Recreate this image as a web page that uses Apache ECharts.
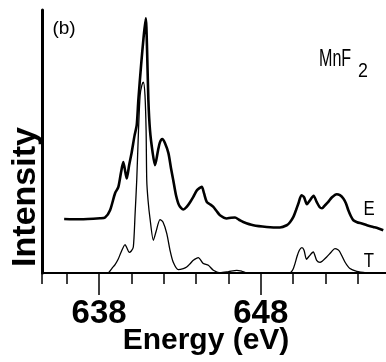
<!DOCTYPE html>
<html>
<head>
<meta charset="utf-8">
<script src="https://cdn.jsdelivr.net/npm/echarts@6/dist/echarts.min.js"></script>
<style>html,body{margin:0;padding:0;background:#fff}#c{width:386px;height:362px}</style>
</head>
<body>
<div id="c"></div>
<script>
// Energy axis range (eV) and tick values
var xMin = 634.47, xMax = 655.75;
var minorTicks = [634.47, 636, 638, 640, 642, 644, 646, 648, 650, 652, 654];
var majorTicks = [638, 648];
var tickLabels = [638, 648];

// Experimental spectrum E (energy eV, intensity a.u.)
var eEnergy = [635.84,636.83,638.06,638.37,638.68,638.99,639.19,639.36,639.50,639.71,639.86,640.02,640.20,640.33,640.43,640.60,640.75,640.89,640.97,641.05,641.15,641.31,641.46,641.65,641.77,641.91,642.08,642.29,642.45,642.59,642.76,642.95,643.21,643.42,643.63,643.83,644.06,644.35,644.49,644.66,644.86,645.07,645.28,645.48,645.90,646.16,646.41,646.66,646.92,647.54,648.37,649.19,649.61,649.81,650.02,650.18,650.33,650.52,650.68,650.86,651.05,651.27,651.46,651.65,651.79,651.98,652.18,652.41,652.70,652.90,653.11,653.27,653.42,653.58,653.73,653.96,654.25,654.57,654.96,655.25,655.58];
var eIntensity = [20.56,20.44,20.82,21.09,23.87,30.34,32.62,38.33,42.14,35.93,41.0,45.95,52.42,56.22,65.75,79.06,89.34,96.84,84.78,65.75,54.31,45.95,41.0,46.71,49.75,50.89,49.37,45.57,39.86,35.29,29.58,25.77,24.13,25.12,26.91,28.93,31.48,32.74,30.34,27.03,26.15,25.12,23.49,21.96,20.71,21.01,21.09,20.25,19.41,18.16,17.51,17.28,18.16,19.30,21.32,23.87,26.42,29.58,28.82,26.15,27.67,29.39,27.03,25.01,24.63,25.77,27.03,28.82,29.96,29.58,28.32,26.53,23.87,21.58,20.06,19.30,18.80,18.16,17.51,17.02,16.25];

// Theoretical spectrum T
var tEnergy = [638.58,638.80,638.99,639.18,639.36,639.61,639.73,639.86,639.98,640.12,640.23,640.33,640.44,640.54,640.65,640.74,640.84,640.91,640.95,641.03,641.15,641.36,641.53,641.77,641.96,642.19,642.39,642.59,642.90,643.21,643.42,643.63,643.83,644.14,644.45,644.76,645.07,645.48,645.98,646.52,646.84,647.13,649.81,650.00,650.12,650.25,650.39,650.55,650.68,650.83,650.99,651.25,651.46,651.67,652.08,652.35,652.59,652.78,652.90,653.21,653.52,653.94,654.55];
var tIntensity = [0,1.79,3.20,5.22,7.88,10.81,9.40,7.88,8.26,9.90,22.61,35.29,54.32,67.64,71.45,72.59,67.64,54.32,35.29,27.67,20.82,12.45,15.87,20.33,19.30,15.00,8.64,4.07,1.29,1.67,2.28,3.50,4.83,5.86,3.58,2.93,1.03,0.08,0.46,1.03,0.65,0.08,0.08,1.41,3.58,6.36,8.64,9.67,8.64,5.22,6.36,7.99,4.83,4.07,6.09,7.88,9.29,8.83,7.99,4.19,1.67,0.65,0.08];

function zip(a, b) { return a.map(function (v, i) { return [v, b[i]]; }); }

var chart = echarts.init(document.getElementById('c'), null, { renderer: 'canvas' });
var font = 'Liberation Sans, Arial, sans-serif';
chart.setOption({
  animation: false,
  backgroundColor: '#fff',
  grid: { left: 42, right: 0, top: 10, bottom: 89 },
  xAxis: [{
    type: 'value', min: xMin, max: xMax, position: 'bottom',
    axisLine: { onZero: false, lineStyle: { color: '#000', width: 2 } },
    axisTick: { customValues: minorTicks, length: 11, lineStyle: { color: '#000', width: 1.5 } },
    axisLabel: { customValues: tickLabels, color: '#000', fontFamily: font, fontWeight: 'bold', fontSize: 33, margin: 24 },
    splitLine: { show: false }
  }, {
    type: 'value', min: xMin, max: xMax, position: 'bottom',
    axisLine: { show: false, onZero: false },
    axisTick: { customValues: majorTicks, length: 22, lineStyle: { color: '#000', width: 1.5 } },
    axisLabel: { show: false },
    splitLine: { show: false }
  }],
  yAxis: {
    type: 'value', min: 0, max: 100,
    axisLine: { show: true, onZero: false, lineStyle: { color: '#000', width: 3 } },
    axisTick: { show: false }, axisLabel: { show: false }, splitLine: { show: false }
  },
  series: [{
    name: 'E', type: 'line', data: zip(eEnergy, eIntensity), smooth: 0.25,
    showSymbol: false, lineStyle: { color: '#000', width: 2.6 }
  }, {
    name: 'T', type: 'line', data: zip(tEnergy, tIntensity), smooth: 0.25,
    showSymbol: false, lineStyle: { color: '#000', width: 1.3 }
  }],
  graphic: [
    { type: 'text', x: 206, y: 341, style: { text: 'Energy (eV)', fill: '#000', font: 'bold 30px ' + font, align: 'center', verticalAlign: 'middle' } },
    { type: 'text', x: 26, y: 197, rotation: Math.PI / 2, style: { text: 'Intensity', fill: '#000', font: 'bold 34px ' + font, align: 'center', verticalAlign: 'middle' } },
    { type: 'text', x: 64, y: 29, style: { text: '(b)', fill: '#000', font: '19px ' + font, align: 'center', verticalAlign: 'middle' } },
    { type: 'text', x: 319, y: 60, scaleX: 0.7, style: { text: 'MnF', fill: '#000', font: '23px ' + font, align: 'left', verticalAlign: 'middle' } },
    { type: 'text', x: 358, y: 71, scaleX: 0.85, style: { text: '2', fill: '#000', font: '21px ' + font, align: 'left', verticalAlign: 'middle' } },
    { type: 'text', x: 369, y: 209, scaleX: 0.8, style: { text: 'E', fill: '#000', font: '21px ' + font, align: 'center', verticalAlign: 'middle' } },
    { type: 'text', x: 369, y: 261, scaleX: 0.8, style: { text: 'T', fill: '#000', font: '21px ' + font, align: 'center', verticalAlign: 'middle' } }
  ]
});
</script>
</body>
</html>
